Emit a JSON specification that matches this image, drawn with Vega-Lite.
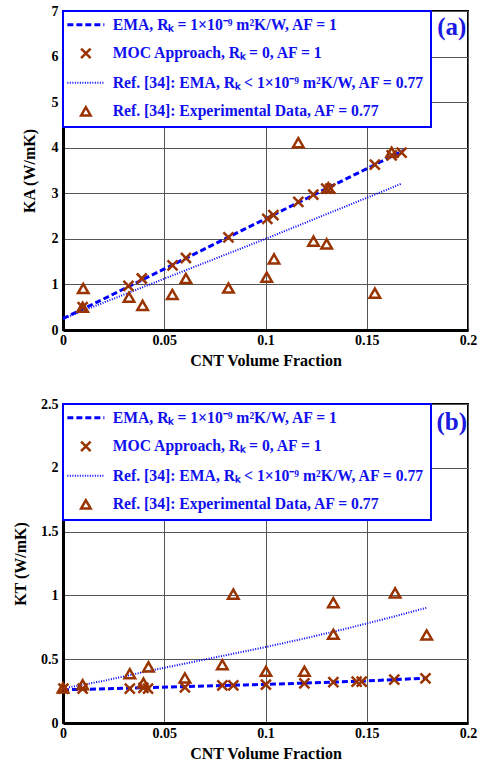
{
  "$schema": "https://vega.github.io/schema/vega-lite/v6.json",
  "padding": {"left": 11, "top": 3, "right": 0, "bottom": 0},
  "background": "white",
  "datasets": {
    "a_ema": [{"s":"A","x":0,"y":0.25},{"s":"A","x":0.02,"y":0.68},{"s":"A","x":0.04,"y":1.12},{"s":"A","x":0.06,"y":1.56},{"s":"A","x":0.08,"y":2.0},{"s":"A","x":0.1,"y":2.44},{"s":"A","x":0.12,"y":2.88},{"s":"A","x":0.14,"y":3.32},{"s":"A","x":0.16,"y":3.76},{"s":"A","x":0.168,"y":3.94}],
    "a_moc": [{"s":"B","x":0.0097,"y":0.5},{"s":"B","x":0.0323,"y":0.97},{"s":"B","x":0.0389,"y":1.13},{"s":"B","x":0.0541,"y":1.42},{"s":"B","x":0.0607,"y":1.58},{"s":"B","x":0.0817,"y":2.03},{"s":"B","x":0.1009,"y":2.44},{"s":"B","x":0.1039,"y":2.52},{"s":"B","x":0.1162,"y":2.81},{"s":"B","x":0.1236,"y":2.97},{"s":"B","x":0.13,"y":3.1},{"s":"B","x":0.132,"y":3.1},{"s":"B","x":0.154,"y":3.63},{"s":"B","x":0.1623,"y":3.83},{"s":"B","x":0.1672,"y":3.89}],
    "a_ref": [{"s":"C","x":0,"y":0.25},{"s":"C","x":0.02,"y":0.6},{"s":"C","x":0.04,"y":0.95},{"s":"C","x":0.06,"y":1.3},{"s":"C","x":0.08,"y":1.65},{"s":"C","x":0.1,"y":2.0},{"s":"C","x":0.12,"y":2.36},{"s":"C","x":0.14,"y":2.72},{"s":"C","x":0.16,"y":3.08},{"s":"C","x":0.167,"y":3.21}],
    "a_exp": [{"s":"D","x":0.0097,"y":0.5},{"s":"D","x":0.01,"y":0.91},{"s":"D","x":0.0326,"y":0.72},{"s":"D","x":0.0393,"y":0.54},{"s":"D","x":0.054,"y":0.78},{"s":"D","x":0.0607,"y":1.13},{"s":"D","x":0.0817,"y":0.92},{"s":"D","x":0.1006,"y":1.16},{"s":"D","x":0.1042,"y":1.56},{"s":"D","x":0.1162,"y":4.11},{"s":"D","x":0.1237,"y":1.95},{"s":"D","x":0.1302,"y":1.89},{"s":"D","x":0.131,"y":3.12},{"s":"D","x":0.154,"y":0.81},{"s":"D","x":0.1623,"y":3.9}],
    "b_ema": [{"s":"A","x":0,"y":0.26},{"s":"A","x":0.03,"y":0.272},{"s":"A","x":0.06,"y":0.285},{"s":"A","x":0.09,"y":0.298},{"s":"A","x":0.12,"y":0.313},{"s":"A","x":0.15,"y":0.33},{"s":"A","x":0.18,"y":0.352}],
    "b_moc": [{"s":"B","x":0.0002,"y":0.27},{"s":"B","x":0.0097,"y":0.27},{"s":"B","x":0.033,"y":0.27},{"s":"B","x":0.0397,"y":0.275},{"s":"B","x":0.042,"y":0.27},{"s":"B","x":0.0602,"y":0.28},{"s":"B","x":0.0787,"y":0.295},{"s":"B","x":0.0841,"y":0.295},{"s":"B","x":0.1002,"y":0.3},{"s":"B","x":0.1192,"y":0.31},{"s":"B","x":0.1335,"y":0.32},{"s":"B","x":0.145,"y":0.325},{"s":"B","x":0.1475,"y":0.325},{"s":"B","x":0.1636,"y":0.34},{"s":"B","x":0.179,"y":0.35}],
    "b_ref": [{"s":"C","x":0.003,"y":0.28},{"s":"C","x":0.02,"y":0.33},{"s":"C","x":0.04,"y":0.4},{"s":"C","x":0.06,"y":0.465},{"s":"C","x":0.08,"y":0.53},{"s":"C","x":0.1,"y":0.595},{"s":"C","x":0.12,"y":0.665},{"s":"C","x":0.14,"y":0.74},{"s":"C","x":0.16,"y":0.82},{"s":"C","x":0.18,"y":0.905}],
    "b_exp": [{"s":"D","x":0.0,"y":0.275},{"s":"D","x":0.0097,"y":0.3},{"s":"D","x":0.033,"y":0.386},{"s":"D","x":0.0397,"y":0.313},{"s":"D","x":0.0422,"y":0.44},{"s":"D","x":0.0602,"y":0.353},{"s":"D","x":0.0787,"y":0.457},{"s":"D","x":0.0841,"y":1.01},{"s":"D","x":0.1002,"y":0.405},{"s":"D","x":0.1192,"y":0.405},{"s":"D","x":0.1335,"y":0.943},{"s":"D","x":0.1335,"y":0.695},{"s":"D","x":0.164,"y":1.02},{"s":"D","x":0.1796,"y":0.69}],
    "a_lab": [{"x":0.192,"y":6.65,"t":"(a)"}],
    "b_lab": [{"x":0.192,"y":2.36,"t":"(b)"}]
  },
  "vconcat": [
    {
      "width": 405, "height": 319,
      "encoding": {
        "x": {"field": "x", "type": "quantitative", "scale": {"domain": [0, 0.2]}, "axis": {"title": "CNT Volume Fraction", "values": [0, 0.05, 0.1, 0.15, 0.2], "format": "~g"}},
        "y": {"field": "y", "type": "quantitative", "scale": {"domain": [0, 7]}, "axis": {"title": "KA (W/mK)", "values": [0, 1, 2, 3, 4, 5, 6, 7], "titlePadding": 14}},
        "color": {"field": "s", "type": "nominal",
          "scale": {"domain": ["A", "B", "C", "D"], "range": ["#0000ff", "#993300", "#0000ff", "#993300"]},
          "legend": {
            "title": null, "orient": "top-left", "offset": 0, "padding": 6,
            "strokeColor": "#0000ff", "fillColor": "white",
            "labelFont": "Liberation Serif", "labelFontSize": 15.7, "labelFontWeight": "bold", "labelColor": "#1010ee", "labelLimit": 1000,
            "symbolSize": 100, "symbolOffset": 9, "labelOffset": 19, "rowPadding": 10.5,
            "labelExpr": "{'A':'EMA, Rₖ = 1×10⁻⁹ m²K/W, AF = 1','B':'MOC Approach, Rₖ = 0, AF = 1','C':'Ref. [34]: EMA, Rₖ < 1×10⁻⁹ m²K/W, AF = 0.77','D':'Ref. [34]: Experimental Data, AF = 0.77'}[datum.value]",
            "encode": {
              "legend": {"update": {"strokeWidth": {"value": 2}}},
              "symbols": {"update": {
                "shape": {"signal": "datum.value=='A'||datum.value=='C' ? 'M-1,0L1,0' : datum.value=='B' ? 'M-1,-1L1,1M-1,1L1,-1' : 'triangle-up'"},
                "size": {"signal": "datum.value=='A'||datum.value=='C' ? 1369 : 90"},
                "strokeDash": {"signal": "datum.value=='A' ? [6,3] : datum.value=='C' ? [1,1.5] : [1,0]"},
                "strokeWidth": {"signal": "datum.value=='A' ? 3 : datum.value=='C' ? 2 : 2.5"},
                "fill": {"value": "transparent"},
                "stroke": {"signal": "datum.value=='A'||datum.value=='C' ? '#0000ff' : '#993300'"},
                "opacity": {"value": 1}
              }}
            }
          }
        }
      },
      "layer": [
        {"data": {"name": "a_ref"}, "mark": {"type": "line", "strokeDash": [1, 1.5], "strokeWidth": 2}},
        {"data": {"name": "a_ema"}, "mark": {"type": "line", "strokeDash": [6, 3], "strokeWidth": 3}},
        {"data": {"name": "a_exp"}, "mark": {"type": "point", "shape": "triangle-up", "size": 110, "strokeWidth": 2.5, "filled": false, "opacity": 1}},
        {"data": {"name": "a_moc"}, "mark": {"type": "point", "shape": "M-1,-1L1,1M-1,1L1,-1", "size": 100, "strokeWidth": 2.5, "filled": false, "opacity": 1}},
        {"data": {"name": "a_lab"}, "mark": {"type": "text", "font": "Liberation Serif", "fontWeight": "bold", "fontSize": 25, "color": "#1a1ae0"},
         "encoding": {"text": {"field": "t"}, "color": {"value": "#1a1ae0"}}}
      ]
    },
    {
      "width": 405, "height": 319,
      "encoding": {
        "x": {"field": "x", "type": "quantitative", "scale": {"domain": [0, 0.2]}, "axis": {"title": "CNT Volume Fraction", "values": [0, 0.05, 0.1, 0.15, 0.2], "format": "~g"}},
        "y": {"field": "y", "type": "quantitative", "scale": {"domain": [0, 2.5]}, "axis": {"title": "KT (W/mK)", "values": [0, 0.5, 1, 1.5, 2, 2.5], "format": "~g", "titlePadding": 12}},
        "color": {"field": "s", "type": "nominal",
          "scale": {"domain": ["A", "B", "C", "D"], "range": ["#0000ff", "#993300", "#0000ff", "#993300"]},
          "legend": {
            "title": null, "orient": "top-left", "offset": 0, "padding": 6,
            "strokeColor": "#0000ff", "fillColor": "white",
            "labelFont": "Liberation Serif", "labelFontSize": 15.7, "labelFontWeight": "bold", "labelColor": "#1010ee", "labelLimit": 1000,
            "symbolSize": 100, "symbolOffset": 9, "labelOffset": 19, "rowPadding": 10.5,
            "labelExpr": "{'A':'EMA, Rₖ = 1×10⁻⁹ m²K/W, AF = 1','B':'MOC Approach, Rₖ = 0, AF = 1','C':'Ref. [34]: EMA, Rₖ < 1×10⁻⁹ m²K/W, AF = 0.77','D':'Ref. [34]: Experimental Data, AF = 0.77'}[datum.value]",
            "encode": {
              "legend": {"update": {"strokeWidth": {"value": 2}}},
              "symbols": {"update": {
                "shape": {"signal": "datum.value=='A'||datum.value=='C' ? 'M-1,0L1,0' : datum.value=='B' ? 'M-1,-1L1,1M-1,1L1,-1' : 'triangle-up'"},
                "size": {"signal": "datum.value=='A'||datum.value=='C' ? 1369 : 90"},
                "strokeDash": {"signal": "datum.value=='A' ? [6,3] : datum.value=='C' ? [1,1.5] : [1,0]"},
                "strokeWidth": {"signal": "datum.value=='A' ? 3 : datum.value=='C' ? 2 : 2.5"},
                "fill": {"value": "transparent"},
                "stroke": {"signal": "datum.value=='A'||datum.value=='C' ? '#0000ff' : '#993300'"},
                "opacity": {"value": 1}
              }}
            }
          }
        }
      },
      "layer": [
        {"data": {"name": "b_ref"}, "mark": {"type": "line", "strokeDash": [1, 1.5], "strokeWidth": 2}},
        {"data": {"name": "b_ema"}, "mark": {"type": "line", "strokeDash": [6, 3], "strokeWidth": 3}},
        {"data": {"name": "b_exp"}, "mark": {"type": "point", "shape": "triangle-up", "size": 110, "strokeWidth": 2.5, "filled": false, "opacity": 1}},
        {"data": {"name": "b_moc"}, "mark": {"type": "point", "shape": "M-1,-1L1,1M-1,1L1,-1", "size": 100, "strokeWidth": 2.5, "filled": false, "opacity": 1}},
        {"data": {"name": "b_lab"}, "mark": {"type": "text", "font": "Liberation Serif", "fontWeight": "bold", "fontSize": 25, "color": "#1a1ae0"},
         "encoding": {"text": {"field": "t"}, "color": {"value": "#1a1ae0"}}}
      ]
    }
  ],
  "spacing": 74,
  "bounds": "flush",
  "resolve": {"scale": {"x": "independent", "y": "independent", "color": "independent"}, "legend": {"color": "independent"}},
  "config": {
    "font": "Liberation Serif",
    "view": {"stroke": "black", "strokeWidth": 2},
    "axis": {
      "grid": true, "gridColor": "#555555", "gridWidth": 1, "gridOpacity": 1,
      "domainColor": "black", "domainWidth": 3, "ticks": false,
      "labelFont": "Liberation Serif", "labelFontSize": 14, "labelFontWeight": "bold", "labelColor": "black", "labelPadding": 5,
      "labelFlush": false, "labelOverlap": false,
      "titleFont": "Liberation Serif", "titleFontSize": 16, "titleFontWeight": "bold", "titleColor": "black"
    },
    "axisX": {"titlePadding": 5, "labelPadding": 3}
  }
}
